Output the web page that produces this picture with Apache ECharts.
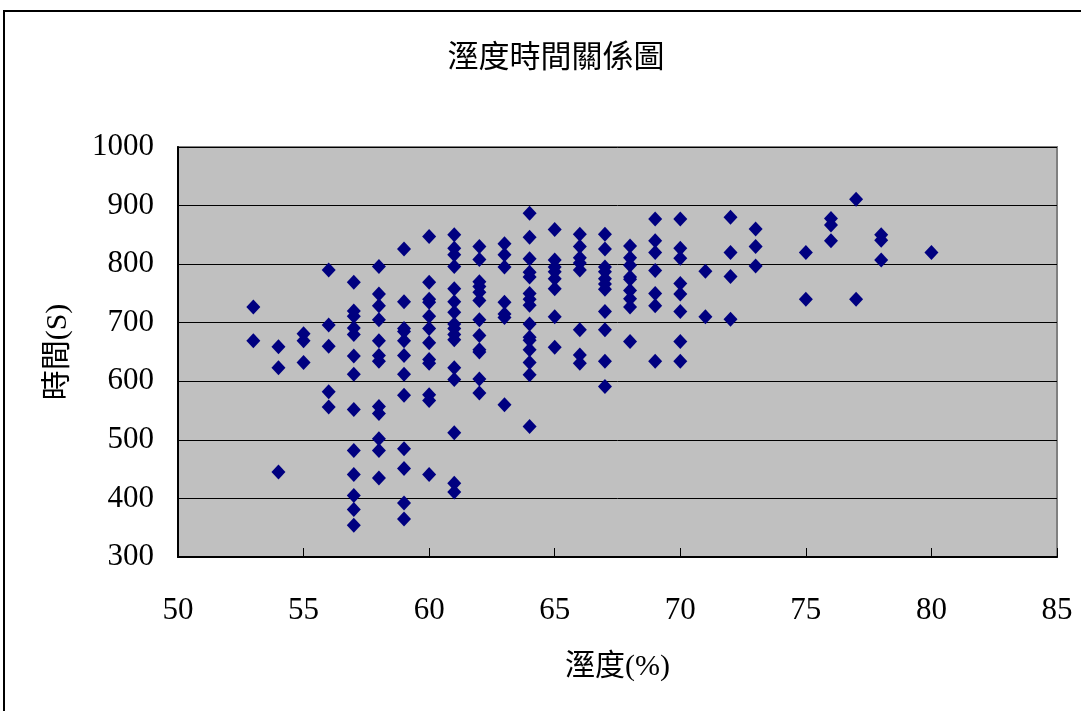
<!DOCTYPE html>
<html>
<head>
<meta charset="utf-8">
<script src="https://cdn.jsdelivr.net/npm/echarts@6/dist/echarts.min.js"></script>
<style>
  html, body { margin: 0; padding: 0; background: #fff; }
  #chart { width: 1081px; height: 711px; }
</style>
</head>
<body>
<div id="chart"></div>
<script>
// 溼度 (x) 各欄與其對應的時間 (y) 讀數
const humidityLevels = [53, 54, 55, 56, 57, 58, 59, 60, 61, 62, 63, 64, 65, 66, 67, 68, 69, 70, 71, 72, 73, 75, 76, 77, 78, 80]
const timesByHumidity = [
  [727, 669],
  [659, 623, 445],
  [681, 669, 632],
  [790, 696, 660, 582, 556],
  [769, 720, 711, 691, 680, 643, 612, 552, 482, 441, 405, 381, 354],
  [796, 749, 729, 705, 669, 644, 634, 557, 545, 502, 482, 435],
  [826, 736, 690, 685, 669, 644, 612, 576, 485, 451, 392, 365],
  [847, 769, 740, 735, 711, 690, 666, 637, 631, 577, 567, 441],
  [850, 827, 816, 796, 758, 736, 718, 698, 690, 680, 671, 623, 603, 512, 426, 411],
  [830, 808, 770, 762, 752, 738, 705, 678, 654, 650, 604, 580],
  [835, 816, 795, 735, 715, 709, 560],
  [887, 846, 809, 786, 778, 750, 740, 730, 698, 675, 670, 654, 632, 611, 523],
  [859, 807, 795, 787, 775, 758, 710, 658],
  [851, 830, 811, 802, 790, 688, 645, 631],
  [851, 826, 795, 787, 775, 766, 757, 719, 688, 634, 591],
  [831, 811, 798, 778, 774, 755, 741, 727, 668],
  [877, 840, 820, 789, 750, 729, 634],
  [877, 827, 810, 767, 749, 719, 668, 634],
  [788, 710],
  [880, 820, 779, 706],
  [860, 830, 797],
  [820, 740],
  [878, 867, 840],
  [911, 740],
  [850, 841, 807],
  [820]
]

const serif = '"Liberation Serif", "Noto Sans CJK TC", serif'

let points = []
humidityLevels.forEach((h, i) => {
  timesByHumidity[i].forEach(t => {
    points.push([h, t])
  })
})

const chart = echarts.init(document.getElementById('chart'))
const option = {
  animation: false,
  backgroundColor: '#fff',
  title: {
    text: '溼度時間關係圖',
    left: 551,
    top: 35,
    textAlign: 'center',
    textStyle: {
      fontFamily: '"Noto Sans CJK TC", sans-serif',
      fontWeight: 'normal',
      fontSize: 31,
      color: '#000'
    }
  },
  graphic: [{
    type: 'rect',
    silent: true,
    z: 100,
    shape: { x: 4, y: 11, width: 1300, height: 900 },
    style: { fill: null, stroke: '#000', lineWidth: 2 }
  }],
  grid: {
    left: 178,
    right: 24,
    top: 147,
    bottom: 154,
    show: true,
    backgroundColor: '#c0c0c0',
    borderColor: '#808080',
    borderWidth: 2
  },
  xAxis: {
    type: 'value',
    min: 50,
    max: 85,
    interval: 5,
    name: '溼度(%)',
    nameLocation: 'middle',
    nameGap: 95,
    nameTextStyle: {
      fontFamily: serif,
      fontSize: 30,
      color: '#000'
    },
    axisLine: { lineStyle: { color: '#000', width: 2 } },
    axisTick: { show: true, inside: true, length: 9, lineStyle: { color: '#000' } },
    axisLabel: {
      margin: 38,
      fontFamily: serif,
      fontSize: 31,
      color: '#000'
    },
    splitLine: { show: false }
  },
  yAxis: {
    type: 'value',
    min: 300,
    max: 1000,
    interval: 100,
    name: '時間(S)',
    nameLocation: 'middle',
    nameRotate: 90,
    nameGap: 105,
    nameTextStyle: {
      fontFamily: serif,
      fontSize: 30,
      color: '#000'
    },
    axisLine: { show: true, lineStyle: { color: '#000', width: 2 } },
    axisTick: { show: true, inside: true, length: 9, lineStyle: { color: '#000' } },
    axisLabel: {
      margin: 24,
      fontFamily: serif,
      fontSize: 31,
      color: '#000',
      formatter: v => String(v)
    },
    splitLine: { show: true, lineStyle: { color: '#000', width: 1 } }
  },
  series: [{
    type: 'scatter',
    symbol: 'diamond',
    symbolSize: [14, 15],
    itemStyle: { color: '#000080', opacity: 1 },
    data: points
  }]
}
chart.setOption(option)
</script>
</body>
</html>
